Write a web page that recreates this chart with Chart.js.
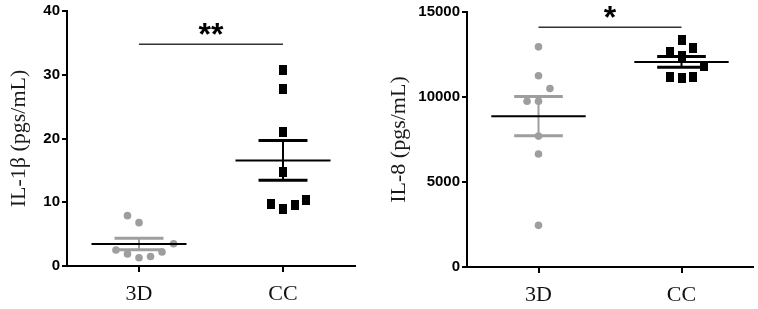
<!DOCTYPE html>
<html>
<head>
<meta charset="utf-8">
<script src="https://cdn.jsdelivr.net/npm/chart.js@4/dist/chart.umd.min.js"></script>
<style>
  html, body { margin: 0; padding: 0; background: #fff; }
  body { width: 758px; height: 309px; position: relative; overflow: hidden; }
  canvas { position: absolute; top: 0; }
  #il1bChart { left: 0; }
  #il8Chart { left: 380px; }
</style>
</head>
<body>
<canvas id="il1bChart" width="380" height="309"></canvas>
<canvas id="il8Chart" width="378" height="309"></canvas>
<script>
// groups on the x axis
const categories = ["3D", "CC"];

// IL-1β, pgs/mL
const il1b3D = [7.9, 6.8, 3.5, 2.5, 1.9, 1.3, 1.5, 2.2];
const il1b3DJitter = [-0.08, 0, 0.24, -0.16, -0.08, 0, 0.08, 0.16];
const il1bCC = [30.7, 27.7, 21.0, 14.7, 9.7, 8.9, 9.5, 10.3];
const il1bCCJitter = [0, 0, 0, 0, -0.08, 0, 0.08, 0.16];
const il1bTicks = [0, 10, 20, 30, 40];
const il1bSig = { label: "**", y: 34.8 };

// IL-8, pgs/mL
const il8_3D = [12950, 11250, 10500, 9750, 9750, 7700, 6650, 2450];
const il8_3DJitter = [0, 0, 0.08, -0.08, 0, 0, 0, 0];
const il8CC = [13350, 12900, 12650, 12400, 11800, 11150, 11100, 11150];
const il8CCJitter = [0, 0.08, -0.08, 0, 0.16, -0.08, 0, 0.08];
const il8Ticks = [0, 5000, 10000, 15000];
const il8Sig = { label: "*", y: 14100 };

const GREY = "#9e9ea0";
const BLACK = "#000";

function mean(arr) {
  return arr.reduce((a, b) => a + b, 0) / arr.length;
}
function sem(arr) {
  const m = mean(arr);
  const v = arr.reduce((a, b) => a + (b - m) * (b - m), 0) / (arr.length - 1);
  return Math.sqrt(v / arr.length);
}

// small black rectangle used for the CC squares
const squareImg = document.createElement("canvas");
squareImg.width = 8;
squareImg.height = 10;
squareImg.getContext("2d").fillRect(0, 0, 8, 10);

function segment(x0, x1, y0, y1, color, width, order) {
  return {
    type: "line",
    data: [{ x: x0, y: y0 }, { x: x1, y: y1 }],
    borderColor: color,
    borderWidth: width,
    pointRadius: 0,
    showLine: true,
    clip: false,
    order: order,
  };
}

// mean line + SEM whiskers for one group
function summary(values, pos, barColor) {
  const m = mean(values);
  const s = sem(values);
  return [
    segment(pos, pos, m - s, m + s, barColor, 2, 2),
    segment(pos - 0.17, pos + 0.17, m + s, m + s, barColor, 3, 2),
    segment(pos - 0.17, pos + 0.17, m - s, m - s, barColor, 3, 2),
    segment(pos - 0.33, pos + 0.33, m, m, BLACK, 2, 1),
  ];
}

const sigPlugin = {
  id: "sig",
  afterDatasetsDraw(chart) {
    const sig = chart.options.plugins.sig;
    const { ctx, scales } = chart;
    const x1 = scales.x.getPixelForValue(1);
    const x2 = scales.x.getPixelForValue(2);
    const y = scales.y.getPixelForValue(sig.y);
    ctx.save();
    ctx.strokeStyle = "#333";
    ctx.lineWidth = 1.5;
    ctx.beginPath();
    ctx.moveTo(x1, y);
    ctx.lineTo(x2, y);
    ctx.stroke();
    ctx.fillStyle = BLACK;
    ctx.font = "bold 32px 'Liberation Sans', Arial, sans-serif";
    ctx.textAlign = "center";
    ctx.textBaseline = "alphabetic";
    ctx.fillText(sig.label, (x1 + x2) / 2, y + 1);
    ctx.restore();
  },
};

function makeChart(id, opts) {
  const pts3D = opts.d3.map((v, i) => ({ x: 1 + opts.j3[i], y: v }));
  const ptsCC = opts.dc.map((v, i) => ({ x: 2 + opts.jc[i], y: v }));
  const datasets = [
    {
      type: "scatter",
      data: pts3D,
      pointStyle: "circle",
      pointRadius: 3.8,
      backgroundColor: GREY,
      borderWidth: 0,
      clip: false,
      order: 3,
    },
    {
      type: "scatter",
      data: ptsCC,
      pointStyle: squareImg,
      backgroundColor: BLACK,
      clip: false,
      order: 3,
    },
    ...summary(opts.d3, 1, GREY),
    ...summary(opts.dc, 2, BLACK),
  ];

  return new Chart(document.getElementById(id), {
    type: "scatter",
    data: { datasets: datasets },
    options: {
      responsive: false,
      animation: false,
      devicePixelRatio: 1,
      layout: {
        padding: { left: 0, right: opts.padRight, top: opts.padTop, bottom: 0 },
      },
      plugins: {
        legend: { display: false },
        tooltip: { enabled: false },
        sig: opts.sig,
      },
      scales: {
        x: {
          type: "linear",
          min: 0.5,
          max: 2.5,
          afterBuildTicks: (scale) => {
            scale.ticks = categories.map((c, i) => ({ value: i + 1 }));
          },
          afterFit: (scale) => {
            scale.height = opts.xHeight;
          },
          border: { color: BLACK, width: 2 },
          grid: {
            drawOnChartArea: false,
            drawTicks: true,
            tickLength: 6,
            color: BLACK,
            lineWidth: 2,
          },
          ticks: {
            padding: 9,
            color: "#111",
            font: { family: "'Liberation Serif', 'Times New Roman', serif", size: 22 },
            callback: (value) => categories[value - 1] || "",
          },
        },
        y: {
          min: opts.ticks[0],
          max: opts.ticks[opts.ticks.length - 1],
          afterBuildTicks: (scale) => {
            scale.ticks = opts.ticks.map((v) => ({ value: v }));
          },
          afterFit: (scale) => {
            scale.width = opts.yWidth;
          },
          border: { color: BLACK, width: 2 },
          grid: {
            drawOnChartArea: false,
            drawTicks: true,
            tickLength: 5,
            color: BLACK,
            lineWidth: 2,
          },
          ticks: {
            padding: 2,
            color: BLACK,
            font: { family: "'Liberation Sans', Arial, sans-serif", size: 15, weight: "bold" },
            callback: (value) => String(value),
          },
          title: {
            display: true,
            text: opts.title,
            color: "#1a1a1a",
            padding: { top: 6, bottom: 0 },
            font: { family: "'Liberation Serif', 'Times New Roman', serif", size: 22 },
          },
        },
      },
    },
    plugins: [sigPlugin],
  });
}

makeChart("il1bChart", {
  d3: il1b3D, j3: il1b3DJitter, dc: il1bCC, jc: il1bCCJitter,
  ticks: il1bTicks, sig: il1bSig, title: "IL-1β (pgs/mL)",
  yWidth: 67, xHeight: 43, padTop: 10, padRight: 25,
});

makeChart("il8Chart", {
  d3: il8_3D, j3: il8_3DJitter, dc: il8CC, jc: il8CCJitter,
  ticks: il8Ticks, sig: il8Sig, title: "IL-8 (pgs/mL)",
  yWidth: 87, xHeight: 42, padTop: 12, padRight: 3,
});
</script>
</body>
</html>
